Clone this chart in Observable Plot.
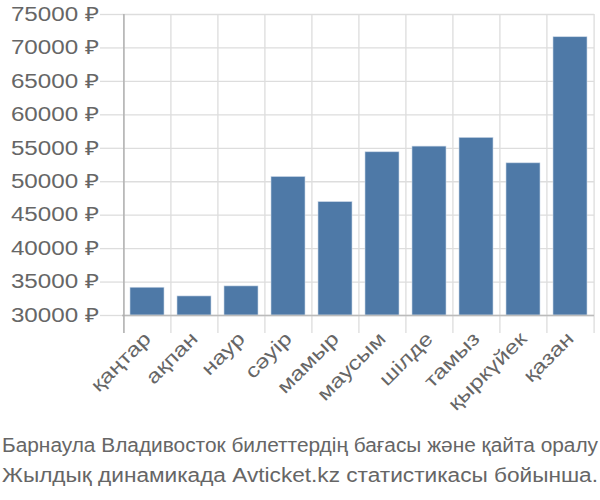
<!DOCTYPE html>
<html>
<head>
<meta charset="utf-8">
<script src="https://cdn.jsdelivr.net/npm/d3@7"></script>
<script src="https://cdn.jsdelivr.net/npm/@observablehq/plot@0.6"></script>
<style>
  body { margin: 0; background: #fff; }
  #chart svg { display: block; }
  .cap { font-family: "Liberation Sans", Arial, sans-serif; font-size: 19.5px; line-height: 30px; color: #666; padding-left: 2px; white-space: nowrap; }
  .cap span { display: inline-block; transform-origin: left center; }
</style>
</head>
<body>
<div id="chart"></div>
<div class="cap"><span>Барнаула Владивосток билеттердің бағасы және қайта оралу</span></div>
<div class="cap"><span>Жылдық динамикада Avticket.kz статистикасы бойынша.</span></div>
<script>
const months = ["қаңтар","ақпан","наур","сәуір","мамыр","маусым","шілде","тамыз","қыркүйек","қазан"];
const prices = [34150, 32850, 34350, 50700, 46950, 54400, 55250, 56550, 52750, 71600];
const yTicks = [30000, 35000, 40000, 45000, 50000, 55000, 60000, 65000, 70000, 75000];
const baseValue = 30000;
const yDomain = [27310, 75000];

const W = 600, H = 430, ML = 122, MR = 6, MT = 14, MB = 97;
const PI = 0.28, PO = 0.14;
const STRETCH = 1.24;
const CAPTION_WIDTH = 596;
const step = (W - ML - MR) / (months.length - PI + 2 * PO);
const data = months.map((m, i) => ({month: m, price: prices[i]}));

const chart = Plot.plot({
  width: W, height: H,
  marginLeft: ML, marginRight: MR, marginTop: MT, marginBottom: MB,
  style: {fontFamily: "Liberation Sans, Arial, sans-serif", fontSize: "19.5px", color: "#666", background: "#fff"},
  x: {domain: months, paddingInner: PI, paddingOuter: PO},
  y: {domain: yDomain},
  marks: [
    Plot.ruleX(months, {x: d => d, dx: -step / 2, stroke: "#ddd", strokeWidth: 1.3}),
    Plot.ruleX([months[months.length - 1]], {x: d => d, dx: step / 2, stroke: "#ddd", strokeWidth: 1.3}),
    Plot.gridY(yTicks, {stroke: "#ddd", strokeOpacity: 1, strokeWidth: 1.3}),
    Plot.axisY(yTicks, {tickSize: 22, tickPadding: 2, tickFormat: d => `${d} ₽`, stroke: "#ddd", strokeWidth: 1.3, fill: "#666", label: null}),
    Plot.barY(data, {x: "month", y1: baseValue, y2: "price", fill: "#4e79a7", stroke: "#c9d6e6", strokeWidth: 0.6}),
    Plot.ruleY([baseValue], {stroke: "#bbb", strokeWidth: 1.3}),
    Plot.ruleX([months[0]], {x: d => d, dx: -step / 2, stroke: "#aaa", strokeWidth: 1.3}),
    Plot.axisX({tickRotate: -45, tickSize: 0, tickPadding: 2, fill: "#666", label: null})
  ]
});
document.getElementById("chart").appendChild(chart);
chart.querySelectorAll("text").forEach(t => {
  const l = t.getComputedTextLength();
  t.setAttribute("textLength", l * STRETCH);
  t.setAttribute("lengthAdjust", "spacingAndGlyphs");
});
document.querySelectorAll(".cap span").forEach(s => {
  const w = s.getBoundingClientRect().width;
  s.style.transform = `scaleX(${CAPTION_WIDTH / w})`;
});
</script>
</body>
</html>
